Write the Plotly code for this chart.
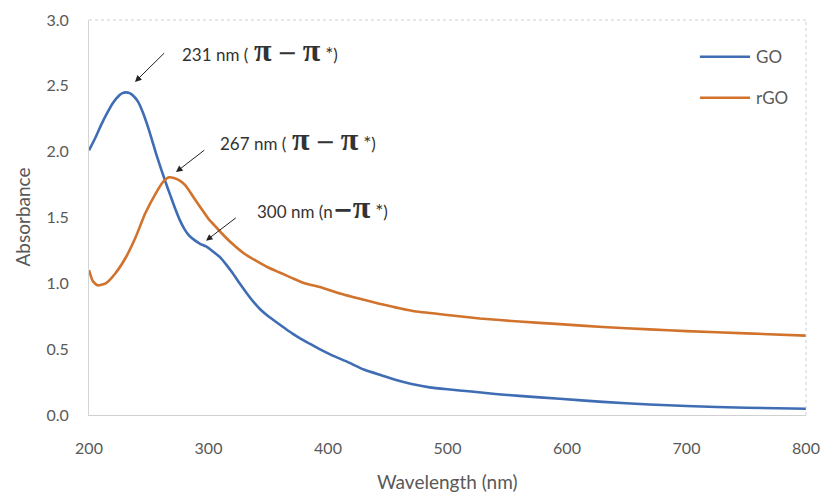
import plotly.graph_objects as go

# GO absorbance spectrum
go_wl = [200, 205, 210, 215, 220, 225, 228, 231, 234, 237, 241, 245, 250, 257, 264, 268,
         272, 276, 280, 284, 288, 293, 298, 304, 310, 315, 320, 326, 332, 338, 343, 349,
         356, 363, 370, 377, 385, 393, 403, 417, 430, 445, 457, 470, 485, 500, 520, 540,
         560, 594, 630, 669, 700, 750, 800]
go_abs = [2.01, 2.10, 2.20, 2.29, 2.37, 2.425, 2.445, 2.45, 2.445, 2.425, 2.38, 2.30, 2.17,
          1.96, 1.77, 1.67, 1.57, 1.48, 1.41, 1.36, 1.33, 1.30, 1.28, 1.24, 1.195, 1.14,
          1.08, 1.00, 0.925, 0.855, 0.805, 0.757, 0.71, 0.665, 0.62, 0.58, 0.54, 0.50,
          0.455, 0.40, 0.345, 0.30, 0.265, 0.235, 0.21, 0.195, 0.178, 0.16, 0.145, 0.123,
          0.10, 0.08, 0.068, 0.055, 0.047]

# rGO absorbance spectrum
rgo_wl = [200, 203, 207, 214, 222, 231, 239, 247, 256, 262, 267, 271, 276, 281, 287, 293,
          300, 305, 310, 320, 330, 340, 350, 360, 370, 379, 385, 393, 410, 430, 444, 471,
          500, 527, 560, 594, 630, 669, 700, 750, 800]
rgo_abs = [1.10, 1.02, 0.985, 1.00, 1.075, 1.20, 1.35, 1.53, 1.685, 1.77, 1.805, 1.80,
           1.78, 1.74, 1.66, 1.58, 1.49, 1.44, 1.39, 1.30, 1.225, 1.17, 1.12, 1.08, 1.04,
           1.005, 0.99, 0.973, 0.923, 0.875, 0.843, 0.79, 0.76, 0.733, 0.71, 0.69, 0.668,
           0.65, 0.637, 0.62, 0.603]

x_ticks = [200, 300, 400, 500, 600, 700, 800]
y_ticks = [0.0, 0.5, 1.0, 1.5, 2.0, 2.5, 3.0]

series_names = ["GO", "rGO"]
series_colors = ["#3f6db4", "#d1732c"]

# peak annotations: text, arrow head (x, y), arrow tail (x, y), text anchor (x, y)
PI = '<span style="font-family:\'Liberation Serif\';font-size:32px"><b>π</b></span>'
MINUS = '<span style="font-family:\'DejaVu Serif\';font-size:24px">−</span>'
BMINUS = '<span style="font-family:\'DejaVu Serif\';font-size:24px"><b>−</b></span>'
SP = '<span style="font-size:22px">&nbsp;</span>'
STAR = '<span style="font-size:19px">&nbsp;*</span>'
notes = [
    ("231 nm (" + SP + PI + SP + MINUS + SP + PI + STAR + ")",
     238.5, 2.53, 264.2, 2.76, 276, 2.77),
    ("267 nm (" + SP + PI + SP + MINUS + SP + PI + STAR + ")",
     272.8, 1.845, 297.7, 2.02, 308, 2.10),
    ("300 nm (n" + BMINUS + PI + STAR + ")", 297.9, 1.324, 324.1, 1.506, 339, 1.58),
]

GREY = "#595959"
FONT = "Lato, 'Open Sans', sans-serif"

fig = go.Figure()
fig.add_trace(go.Scatter(x=go_wl, y=go_abs, mode="lines", name=series_names[0],
                         line=dict(color=series_colors[0], width=2.6, shape="spline",
                                   smoothing=0.5)))
fig.add_trace(go.Scatter(x=rgo_wl, y=rgo_abs, mode="lines", name=series_names[1],
                         line=dict(color=series_colors[1], width=2.6, shape="spline",
                                   smoothing=0.5)))

annotations = []
for text, hx, hy, tx, ty, lx, ly in notes:
    annotations.append(dict(x=hx, y=hy, ax=tx, ay=ty, xref="x", yref="y", axref="x", ayref="y",
                            text="", showarrow=True, arrowhead=2, arrowsize=1.3,
                            arrowwidth=1.0, arrowcolor="#222222"))
    annotations.append(dict(x=lx, y=ly, xref="x", yref="y", text=text, showarrow=False,
                            xanchor="left", yanchor="middle",
                            font=dict(family=FONT, size=17, color="#333333")))

# axis titles
annotations.append(dict(x=0.5, y=0, xref="paper", yref="paper", text="Wavelength (nm)",
                        showarrow=False, xanchor="center", yanchor="middle", yshift=-66,
                        font=dict(family=FONT, size=19, color=GREY)))
annotations.append(dict(x=0, y=0.5, xref="paper", yref="paper", text="Absorbance",
                        showarrow=False, xanchor="center", yanchor="middle", xshift=-67,
                        textangle=-90, font=dict(family=FONT, size=19, color=GREY)))

# custom legend (longer line samples, as in the original)
shapes = [
    dict(type="line", xref="paper", yref="paper", x0=0, x1=1, y0=1, y1=1,
         line=dict(color="#cfcfcf", width=1, dash="dot")),
    dict(type="line", xref="paper", yref="paper", x0=1, x1=1, y0=0, y1=1,
         line=dict(color="#cfcfcf", width=1, dash="dot")),
]
legend_y = [0.907, 0.803]
for name, color, ly in zip(series_names, series_colors, legend_y):
    shapes.append(dict(type="line", xref="paper", yref="paper", x0=0.852, x1=0.922,
                       y0=ly, y1=ly, line=dict(color=color, width=2.6)))
    annotations.append(dict(x=0.927, y=ly, xref="paper", yref="paper", text=name,
                            showarrow=False, xanchor="left", yanchor="middle",
                            font=dict(family=FONT, size=17, color=GREY)))

fig.update_layout(
    width=824, height=492,
    margin=dict(l=89, r=18, t=20, b=77, autoexpand=False),
    paper_bgcolor="white", plot_bgcolor="white",
    font=dict(family=FONT, color=GREY),
    showlegend=False,
    xaxis=dict(range=[200, 800], tickvals=x_ticks, ticktext=[str(v) for v in x_ticks],
               showgrid=False, zeroline=False, showline=True, linecolor="#d0d0d0",
               linewidth=1, ticks="", ticklabelstandoff=19, automargin=False,
               tickfont=dict(size=16, color=GREY)),
    yaxis=dict(range=[0, 3.0], tickvals=y_ticks, ticktext=[f"{v:.1f}" for v in y_ticks],
               showgrid=False, zeroline=False, showline=True, linecolor="#d4d4d4",
               linewidth=1, ticks="", ticklabelstandoff=16, automargin=False,
               tickfont=dict(size=16, color=GREY)),
    annotations=annotations,
    shapes=shapes,
)

fig.write_html("out.html")
